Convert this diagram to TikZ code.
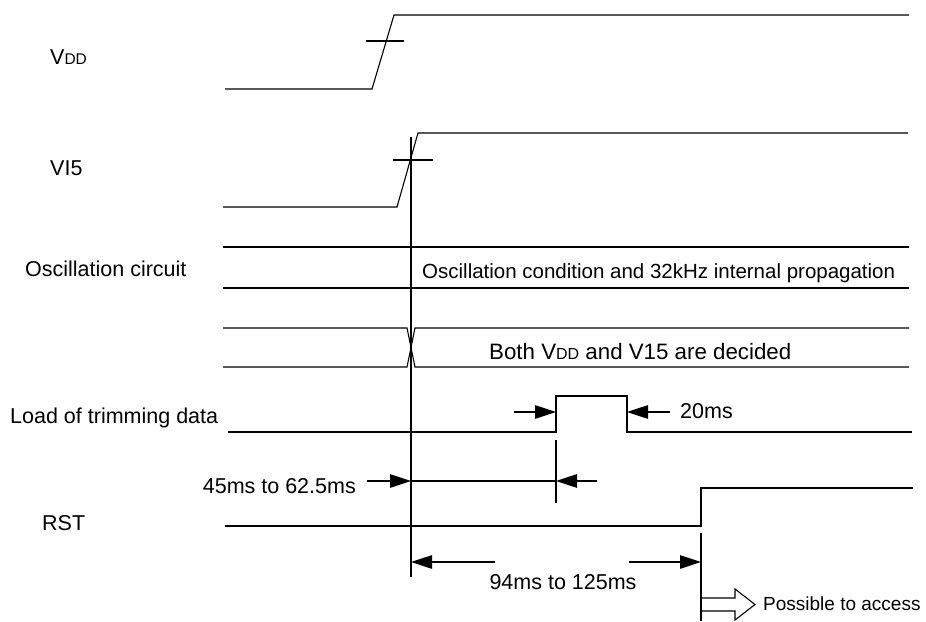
\documentclass[tikz,border=0pt]{standalone}
\usepackage{fontspec}
\setmainfont{Liberation Sans}
\usetikzlibrary{arrows.meta}
\begin{document}
\begin{tikzpicture}[x=1pt,y=-1pt,
  sig/.style={line width=1.1pt,line join=miter},
  dim/.style={line width=1.1pt,-{Triangle[length=21pt,width=13.5pt]}},
  lbl/.style={anchor=base west,inner sep=0pt,font=\fontsize{21.5}{24}\selectfont},
  sml/.style={anchor=base west,inner sep=0pt,font=\fontsize{19}{22}\selectfont}]
\useasboundingbox (0,0) rectangle (926,621);
% labels
\node[lbl] (lvdd) at (50,64) {V{\fontsize{15.5}{16}\selectfont DD}};
\node[lbl] (lvi5) at (50,175) {VI5};
\node[lbl] (losc) at (25,276) {Oscillation circuit};
\node[lbl,font=\fontsize{20.5}{24}\selectfont] (tosc) at (422,278) {Oscillation condition and 32kHz internal propagation};
\node[lbl,font=\fontsize{22.3}{24}\selectfont] (tboth) at (489,359) {Both V{\fontsize{16}{16}\selectfont DD} and V15 are decided};
\node[lbl] (lload) at (10,423) {Load of trimming data};
\node[lbl] (lrst) at (42,530) {RST};
\node[lbl,anchor=base east] (t45) at (356,493) {45ms to 62.5ms};
\node[lbl] (t20) at (680,418) {20ms};
\node[lbl,anchor=base] (t94) at (563,589) {94ms to 125ms};
\node[sml] (tacc) at (763,610) {Possible to access};
% VDD
\coordinate (v0) at (225,89); \coordinate (v1) at (372,89);
\coordinate (v2) at (394,15); \coordinate (v3) at (909,15);
\draw[sig] (v0) -- (v1) -- (v2) -- (v3);
\coordinate (vt0) at (366,41); \coordinate (vt1) at (404,41);
\draw[sig] (vt0) -- (vt1);
% VI5
\coordinate (w0) at (223,207); \coordinate (w1) at (397,207);
\coordinate (w2) at (418,133); \coordinate (w3) at (908,133);
\draw[sig] (w0) -- (w1) -- (w2) -- (w3);
\coordinate (wt0) at (393,160); \coordinate (wt1) at (433,160);
\draw[sig] (wt0) -- (wt1);
% reference vertical
\coordinate (r0) at (411,137); \coordinate (r1) at (411,577);
\draw[sig] (r0) -- (r1);
% oscillation
\coordinate (o0) at (223,247); \coordinate (o1) at (909,247);
\coordinate (o2) at (223,288); \coordinate (o3) at (909,288);
\draw[sig] (o0) -- (o1);
\draw[sig] (o2) -- (o3);
% decided bus
\coordinate (b0) at (223,328); \coordinate (b1) at (407,328);
\coordinate (b2) at (415,367); \coordinate (b3) at (909,367);
\coordinate (b4) at (223,367); \coordinate (b5) at (407,367);
\coordinate (b6) at (415,328); \coordinate (b7) at (909,328);
\draw[sig] (b0) -- (b1) -- (b2) -- (b3);
\draw[sig] (b4) -- (b5) -- (b6) -- (b7);
% load of trimming
\coordinate (l0) at (228,432); \coordinate (l1) at (556,432);
\coordinate (l2) at (556,396); \coordinate (l3) at (627,396);
\coordinate (l4) at (627,432); \coordinate (l5) at (912,432);
\draw[sig] (l0) -- (l1) -- (l2) -- (l3) -- (l4) -- (l5);
\coordinate (a20l) at (514,412); \coordinate (a20lt) at (556,412);
\draw[dim] (a20l) -- (a20lt);
\coordinate (a20r) at (670,412); \coordinate (a20rt) at (627,412);
\draw[dim] (a20r) -- (a20rt);
% 45ms to 62.5ms
\coordinate (m0) at (556,440); \coordinate (m1) at (556,503);
\draw[sig] (m0) -- (m1);
\coordinate (a45l) at (367,481); \coordinate (a45lt) at (411,481);
\draw[dim] (a45l) -- (a45lt);
\draw[sig] (a45lt) -- (m0 |- a45lt);
\coordinate (a45r) at (597,481);
\draw[dim] (a45r) -- (m0 |- a45r);
% RST
\coordinate (s0) at (225,526); \coordinate (s1) at (701,526);
\coordinate (s2) at (701,488); \coordinate (s3) at (913,488);
\draw[sig] (s0) -- (s1) -- (s2) -- (s3);
\coordinate (n0) at (701,533); \coordinate (n1) at (701,621);
\draw[sig] (n0) -- (n1);
% 94ms to 125ms
\coordinate (a94l) at (495,562); \coordinate (a94lt) at (411,562);
\draw[dim] (a94l) -- (a94lt);
\coordinate (a94r) at (629,562); \coordinate (a94rt) at (701,562);
\draw[dim] (a94r) -- (a94rt);
% hollow arrow
\draw[line width=1.1pt,line join=miter] (701,598) -- (735,598) -- (735,589) -- (755,604.5) -- (735,620) -- (735,611) -- (701,611);
\end{tikzpicture}
\end{document}
